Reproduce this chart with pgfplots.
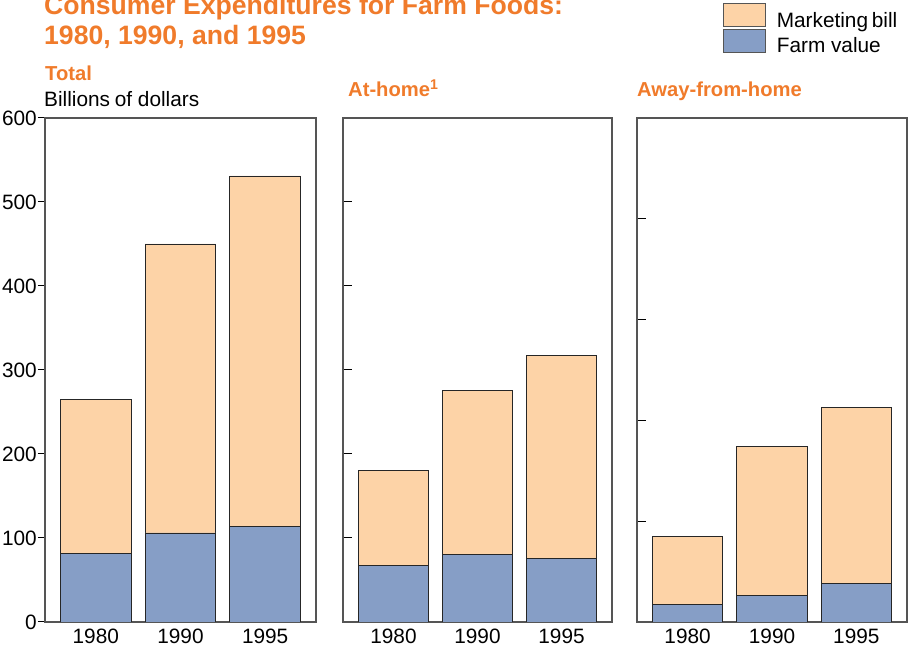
\documentclass[border=0pt]{standalone}
\usepackage{fontspec}
\setmainfont{Liberation Sans}
\usepackage{pgfplots}
\usepackage{pgfplotstable}
\pgfplotsset{compat=1.18}
\definecolor{ttl}{HTML}{F07B2B}
\definecolor{peach}{HTML}{FDD3A7}
\definecolor{farm}{HTML}{869EC6}
\definecolor{axgray}{HTML}{555555}

\pgfplotstableread{
x farm mkt
0 82 183
1 106 344
2 114 417
}\total
\pgfplotstableread{
x farm mkt
0 67 113
1 80 196
2 76 241
}\athome
\pgfplotstableread{
x farm mkt
0 17 68
1 26 148
2 38 175
}\away

\pgfplotsset{
  panel/.style={
    scale only axis, height=504pt,
    xmin=-0.6, xmax=2.6, ymin=0,
    ybar stacked, bar width=0.835,
    xtick={0,1,2}, xticklabels={1980,1990,1995},
    x tick style={draw=none}, major x tick style={draw=none},
    xticklabel style={font=\fontsize{20.8}{24}\selectfont, inner sep=0pt, anchor=north},
    ytick pos=left,
    axis line style={axgray, line width=1.2pt},
    y tick style={black, line width=1pt},
    /pgf/number format/assume math mode=true,
    every axis plot/.append style={draw=black!85, line width=0.8pt},
  },
}

\begin{document}
\begin{tikzpicture}
\path[use as bounding box] (0pt,0pt) rectangle (913pt,653pt);

\node[anchor=base west, text=ttl, font=\bfseries\fontsize{26.6}{30}\selectfont, inner sep=0pt] at (44pt,638pt) {Consumer Expenditures for Farm Foods:};
\node[anchor=base west, text=ttl, font=\bfseries\fontsize{26.6}{30}\selectfont, inner sep=0pt] at (44pt,608pt) {1980, 1990, and 1995};
\node[anchor=base west, text=ttl, font=\bfseries\fontsize{20.2}{24}\selectfont, inner sep=0pt] at (45pt,572pt) {Total};
\node[anchor=base west, font=\fontsize{20.8}{24}\selectfont, inner sep=0pt] at (44pt,546pt) {Billions\kern-1pt\ of dollars};
\node[anchor=base west, text=ttl, font=\bfseries\fontsize{20.2}{24}\selectfont, inner sep=0pt] at (348pt,556pt) {At-home\textsuperscript{1}};
\node[anchor=base west, text=ttl, font=\bfseries\fontsize{20.2}{24}\selectfont, inner sep=0pt] at (637pt,556pt) {Away-from-home};

\begin{axis}[panel, at={(45pt,31pt)}, anchor=south west, width=271pt,
  ymax=600, ytick={0,100,...,600},
  tick align=outside, major tick length=7pt,
  xticklabel style={yshift=0pt},
  yticklabel style={font=\fontsize{20.8}{24}\selectfont, inner sep=0pt, anchor=east, xshift=-1pt}]
\addplot[fill=farm] table[x=x,y=farm]{\total};
\addplot[fill=peach] table[x=x,y=mkt]{\total};
\end{axis}

\begin{axis}[panel, at={(343pt,31pt)}, anchor=south west, width=269pt,
  ymax=600, ytick={100,200,...,500}, yticklabels={},
  tick align=inside, major tick length=9pt,
  xticklabel style={yshift=-7pt}]
\addplot[fill=farm] table[x=x,y=farm]{\athome};
\addplot[fill=peach] table[x=x,y=mkt]{\athome};
\end{axis}

\begin{axis}[panel, at={(637pt,31pt)}, anchor=south west, width=270pt,
  ymax=500, ytick={100,200,...,400}, yticklabels={},
  tick align=inside, major tick length=9pt,
  xticklabel style={yshift=-7pt},
  reverse legend,
  legend style={at={(0.3185,1.228)}, anchor=north west, draw=none, fill=none,
    inner sep=0pt, outer sep=0pt, row sep=0pt, column sep=11pt,
    font=\fontsize{20.8}{24}\selectfont, nodes={inner sep=0pt}},
  legend cell align=left,
  legend image code/.code={\draw[#1, draw=axgray, line width=0.8pt] (0pt,-6pt) rectangle (42pt,17pt);}]
\addplot[fill=farm] table[x=x,y=farm]{\away};
\addplot[fill=peach] table[x=x,y=mkt]{\away};
\legend{Farm value, Marketing\kern-2pt\ bill}
\end{axis}
\end{tikzpicture}
\end{document}
